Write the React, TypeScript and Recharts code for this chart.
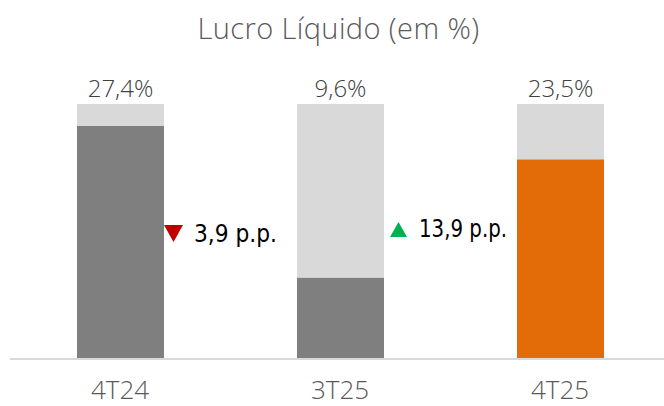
import React from 'react';
import { BarChart, Bar, XAxis, YAxis, Cell, LabelList } from 'recharts';

const quarters = ['4T24', '3T25', '4T25'];
const margins = [27.4, 9.6, 23.5];
const marginLabels = ['27,4%', '9,6%', '23,5%'];
const scaleMax = 30;
const changeLabels = ['3,9 p.p.', '13,9 p.p.', ''];
const changeUp = [false, true, null];

const DARK = '#7f7f7f';
const LIGHT = '#d9d9d9';
const ORANGE = '#e36c09';
const TEXT = '#595959';
const FONT = "'Open Sans', sans-serif";

const data = quarters.map((q, i) => ({
    name: q,
    value: margins[i],
    rest: scaleMax - margins[i],
    label: marginLabels[i],
    change: changeLabels[i],
    up: changeUp[i],
}));

const ChangeLabel = (props: any) => {
    const { x, width, index } = props;
    const d = data[index];
    if (!d || !d.change) return null;
    const left = x + width;
    const up = d.up;
    const cy = up ? 229 : 234;
    const tx = up ? left + 6 : left;
    const tri = up
        ? `${tx},${cy + 8} ${tx + 17},${cy + 8} ${tx + 8.5},${cy - 7}`
        : `${tx},${cy - 9} ${tx + 19},${cy - 9} ${tx + 9.5},${cy + 8}`;
    return (
        <g>
            <polygon points={tri} fill={up ? '#00b050' : '#c00000'} />
            <text
                x={tx + (up ? 29 : 30)}
                y={cy}
                dominantBaseline="central"
                fontFamily="'DejaVu Sans', sans-serif"
                fontStretch="condensed"
                fontSize={24}
                fill="#000"
                textLength={up ? 88 : 83}
                lengthAdjust="spacingAndGlyphs"
            >
                {d.change}
            </text>
        </g>
    );
};

const TopLabel = (props: any) => {
    const { x, y, width, index } = props;
    return (
        <text
            x={x + width / 2}
            y={y - 7}
            textAnchor="middle"
            fontFamily={FONT}
            fontWeight={300}
            fontSize={24}
            fill="#404040"
        >
            {data[index].label}
        </text>
    );
};

export default function App() {
    return (
        <div style={{ position: 'absolute', left: 0, top: 0, width: 664, height: 406, overflow: 'hidden', background: '#fff' }}>
            <div
                style={{
                    position: 'absolute',
                    left: 0,
                    top: 8,
                    width: 677,
                    textAlign: 'center',
                    fontFamily: FONT,
                    fontWeight: 300,
                    fontSize: 29,
                    letterSpacing: 0.4,
                    color: TEXT,
                }}
            >
                Lucro Líquido (em %)
            </div>
            <BarChart
                width={670}
                height={406}
                data={data}
                margin={{ top: 104, right: 0, bottom: 0, left: 10 }}
                barCategoryGap={0}
            >
                <YAxis hide domain={[0, scaleMax]} />
                <XAxis
                    dataKey="name"
                    tickLine={false}
                    axisLine={{ stroke: LIGHT, strokeWidth: 2 }}
                    height={47}
                    tickMargin={16}
                    tick={{ fill: TEXT, fontSize: 26, fontWeight: 300, fontFamily: FONT }}
                />
                <Bar dataKey="value" stackId="a" barSize={87} isAnimationActive={false}>
                    {data.map((d, i) => (
                        <Cell key={d.name} fill={i === data.length - 1 ? ORANGE : DARK} />
                    ))}
                    <LabelList dataKey="change" content={ChangeLabel} />
                </Bar>
                <Bar dataKey="rest" stackId="a" fill={LIGHT} barSize={87} isAnimationActive={false}>
                    <LabelList dataKey="label" content={TopLabel} />
                </Bar>
            </BarChart>
        </div>
    );
}
